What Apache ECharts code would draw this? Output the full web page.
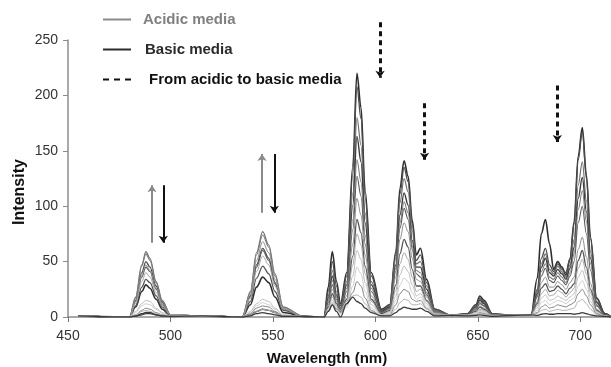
<!DOCTYPE html>
<html>
<head>
<meta charset="utf-8">
<script src="https://cdn.jsdelivr.net/npm/echarts@6/dist/echarts.min.js"></script>
<style>
  html, body { margin: 0; padding: 0; background: #fff; }
  #chart { width: 611px; height: 367px; }
</style>
</head>
<body>
<div id="chart"></div>
<script>
// 发射光谱：酸性到碱性介质
var wavelength = [455, 480, 483, 486, 488, 490, 493, 496, 500, 515,
  535, 539, 542, 545, 548, 551, 555, 565,
  575, 577, 579, 581, 583, 586, 589, 591, 593, 595, 598, 603,
  607, 610, 612, 614, 616, 618, 620, 622, 625, 629,
  637, 645, 649, 651, 653, 657, 666,
  676, 679, 681, 683, 685, 687, 689, 691, 693, 695, 697, 699, 701, 703, 705, 708, 712, 715];

var c1 = [1,0,9,23,29,26,16,7,1,1, 0,11,27,36,31,18,4,0.5, 0,27,59,32,12,40,136,220,189,114,40,7, 11,59,116,141,127,87,56,62,34,7, 1.5,3,11,19,15,3,1.5, 2,35,75,88,66,43,50,45,38,52,86,145,171,128,72,17,3,0];
var c2 = [1,0,15,40,50,45,28,13,2,1, 0,19,47,62,53,31,7,0.5, 0,23,50,28,10,37,129,208,179,108,37,6, 11,57,111,135,122,84,51,56,31,7, 1.5,3,10,17,14,3,1.5, 2,25,53,62,47,41,48,43,40,53,84,142,167,125,70,17,3,0];
var c3 = [1,0,18,47,59,53,32,15,2,1, 0,23,58,77,65,39,9,0.5, 0,19,42,23,8,32,112,180,155,94,32,5, 10,53,103,125,113,78,48,50,28,6, 1.5,2.6,10,16,13,2,1.5, 2,23,48,57,43,39,46,41,36,47,70,119,140,105,59,14,3,0];
var c4 = [1,0,1,3,4,4,2,1,0.5,1, 0,2,5,7,6,4,1,0.5, 0,17,37,20,7,29,101,163,140,85,29,5, 9,47,92,112,101,69,45,45,25,5, 1.5,2.5,9,15,12,2,1.5, 2,21,45,53,40,37,43,39,34,44,63,107,126,95,53,13,3,0];
var c5 = [1,0,17,46,57,51,31,14,2,1, 0,22,56,74,63,37,9,0.5, 0,15,33,18,7,26,88,142,122,74,26,4, 8,44,85,104,94,64,42,40,22,5, 1.5,2.3,8,13,10,2,1.5, 2,19,41,48,36,34,40,36,31,40,57,97,114,86,48,11,2,0];
var c6 = [1,0,14,36,45,41,25,11,2,1, 0,18,45,60,51,30,7,0.5, 0,13,29,16,6,23,79,127,109,66,23,4, 8,41,80,98,88,61,39,36,20,4, 1.5,2.2,7,12,10,2,1.5, 2,18,37,44,33,31,37,33,29,37,50,85,100,75,42,10,2,0];
var c7 = [1,0,14,38,47,42,26,12,2,1, 0,20,51,68,58,34,8,0.5, 0,11,25,14,5,19,66,107,92,56,19,3, 7,36,70,85,77,53,34,32,18,4, 1.5,2,6,10,8,2,1.5, 2,14,31,36,27,27,32,29,25,31,36,61,72,54,30,7,1,0];
var c8 = [1,0,10,27,34,31,19,9,1,1, 0,14,35,46,39,23,6,0.5, 0,9,21,12,4,16,55,88,76,46,16,3, 6,29,57,70,63,43,28,28,15,3, 1.5,2,5,9,7,1,1.5, 2,12,26,30,23,24,28,25,21,26,30,51,60,45,25,6,1,0];
var c9 = [1,0,12,32,40,36,22,10,2,1, 0,17,41,55,47,28,7,0.5, 0,8,18,10,4,14,47,75,65,39,14,2, 5,24,48,58,52,36,23,25,14,3, 1.5,1.7,4,7,6,1,1.5, 2,10,21,25,19,20,24,22,18,22,26,44,52,39,22,5,1,0];
var c10 = [1,0,5,12,15,14,8,4,1,1, 0,5,12,16,14,8,2,0.5, 0,7,15,8,3,11,37,60,52,31,11,2, 4,19,38,46,41,29,19,21,12,3, 1.5,1.6,4,6,5,1,1.5, 2,8,17,20,15,16,19,17,15,18,21,36,42,32,18,4,1,0];
var c11 = [1,0,4,10,12,11,7,3,0.5,1, 0,4,10,13,11,7,2,0.5, 0,6,13,7,3,9,28,45,39,23,8,1.5, 3,15,29,35,32,22,16,18,10,2, 1.5,1.5,3,5,4,1,1.5, 2,6,13,15,11,13,15,14,12,15,17,28,33,25,14,3,1,0];
var c12 = [1,0,2,6,8,7,4,2,0.5,1, 0,3,8,10,9,5,1,0.5, 0,5,11,7,5,12,22,32,28,17,6,1, 2,11,21,25,23,16,14,15,8,2, 1.5,1.4,2,4,3,1,1.5, 2,4,9,11,8,9,11,10,9,11,13,21,25,19,11,3,0.5,0];
var c13 = [1,0,2,5,6,5,3,2,0.5,1, 0,2,5,7,6,4,1,0.5, 0,5,12,8,6,14,19,20,18,12,5,1, 2,7,13,16,15,11,11,12,7,1.5, 1.5,1.3,2,3,2.5,1,1.5, 2,3,6,7,5,6,7,6,6,7,8,14,16,12,7,2,0.5,0];
var c14 = [1,0,1,2,3,3,2,1,0.5,1, 0,1,3,4,3,2,0.5,0.5, 0,5,11,5,0,12,18,14,12,8,4,1, 1,4,7,9,8,7,7,8,5,1, 1.5,1,1.5,2,1.5,0.5,1.5, 2,1.5,2.5,3,2.5,2.5,3,3,3,3,2.5,3,4,3,2,1,0.5,0];

var curves = [c1, c2, c3, c4, c5, c6, c7, c8, c9, c10, c11, c12, c13, c14];
var curveColors = ['#2e2e2e', '#4d4d4d', '#707070', '#3c3c3c', '#7d7d7d', '#5a5a5a', '#8e8e8e',
  '#555555', '#a5a5a5', '#bcbcbc', '#cdcdcd', '#858585', '#b3b3b3', '#3a3a3a'];
var curveWidths = [1.6, 1.3, 1.2, 1.4, 1.1, 1.1, 1, 1.3, 1, 1, 1, 1, 1, 1.3];

// 箭头: [波长, 起点, 终点]
var acidicArrows = [[491, 67, 119], [544.7, 94, 147]];
var basicArrows = [[496.5, 119, 67], [550.7, 147, 94]];
var shiftArrows = [[602.3, 266, 216], [624, 193, 142], [688.8, 209, 158]];

var legendNames = ['Acidic media', 'Basic media', 'From acidic to basic media'];

var font = 'Liberation Sans, Arial, sans-serif';

function arrowData(list) {
  return list.map(function(a) { return { coords: [[a[0], a[1]], [a[0], a[2]]] }; });
}

var series = curves.map(function(c, k) {
  return {
    type: 'line',
    data: wavelength.map(function(w, i) { return [w, c[i]]; }),
    symbol: 'none',
    smooth: 0.35,
    smoothMonotone: 'x',
    silent: true,
    z: 2,
    lineStyle: { color: curveColors[k], width: curveWidths[k] }
  };
});

series.push(
  { name: legendNames[0], type: 'line', data: [], symbol: 'none', lineStyle: { color: '#8a8a8a', width: 2 }, itemStyle: { color: '#8a8a8a' } },
  { name: legendNames[1], type: 'line', data: [], symbol: 'none', lineStyle: { color: '#2b2b2b', width: 3 }, itemStyle: { color: '#2b2b2b' } },
  { name: legendNames[2], type: 'line', data: [], symbol: 'none', lineStyle: { color: '#111', width: 2.5, type: [6, 5] }, itemStyle: { color: '#111' } }
);

series.push(
  { type: 'lines', coordinateSystem: 'cartesian2d', clip: false, z: 5, symbol: ['none', 'arrow'], symbolSize: 7,
    lineStyle: { color: '#8a8a8a', width: 2, opacity: 1, curveness: 0 }, data: arrowData(acidicArrows) },
  { type: 'lines', coordinateSystem: 'cartesian2d', clip: false, z: 5, symbol: ['none', 'arrow'], symbolSize: 7,
    lineStyle: { color: '#111', width: 2, opacity: 1, curveness: 0 }, data: arrowData(basicArrows) },
  { type: 'lines', coordinateSystem: 'cartesian2d', clip: false, z: 5, symbol: ['none', 'arrow'], symbolSize: 7,
    lineStyle: { color: '#111', width: 3, opacity: 1, type: [5, 4], curveness: 0 }, data: arrowData(shiftArrows) }
);

var chart = echarts.init(document.getElementById('chart'), null, { renderer: 'canvas' });
chart.setOption({
  animation: false,
  backgroundColor: '#fff',
  grid: { left: 68, right: 0, top: 40, bottom: 50 },
  legend: {
    orient: 'vertical', left: 102, top: 12, padding: 0,
    itemWidth: 28, itemHeight: 14, itemGap: 15,
    itemStyle: { opacity: 0 },
    textStyle: { fontSize: 15, fontWeight: 'bold', fontFamily: font },
    data: [
      { name: legendNames[0], textStyle: { color: '#808080', padding: [0, 0, 0, 7] } },
      { name: legendNames[1], textStyle: { color: '#2b2b2b', padding: [0, 0, 0, 9] } },
      { name: legendNames[2], textStyle: { color: '#111', padding: [0, 0, 0, 13] } }
    ]
  },
  xAxis: {
    type: 'value', min: 450, max: 715, interval: 50,
    axisLine: { lineStyle: { color: '#8c8c8c', width: 1.5 } },
    axisTick: { show: true, length: 5, lineStyle: { color: '#777' } },
    axisLabel: { color: '#333', fontSize: 14, fontFamily: font, margin: 12, showMaxLabel: false },
    splitLine: { show: false }
  },
  yAxis: {
    type: 'value', min: 0, max: 250, interval: 50,
    axisLine: { show: true, lineStyle: { color: '#8c8c8c', width: 1.5 } },
    axisTick: { show: true, length: 5, lineStyle: { color: '#8c8c8c' } },
    axisLabel: { color: '#333', fontSize: 14, fontFamily: font, margin: 10 },
    splitLine: { show: false }
  },
  graphic: [
    { type: 'text', x: 20, y: 192, rotation: Math.PI / 2,
      style: { text: 'Intensity', fill: '#111', font: 'bold 16px ' + font, textAlign: 'center', textVerticalAlign: 'middle' } },
    { type: 'text', x: 327, y: 359,
      style: { text: 'Wavelength (nm)', fill: '#111', font: 'bold 15px ' + font, textAlign: 'center', textVerticalAlign: 'middle' } }
  ],
  series: series
});
</script>
</body>
</html>
